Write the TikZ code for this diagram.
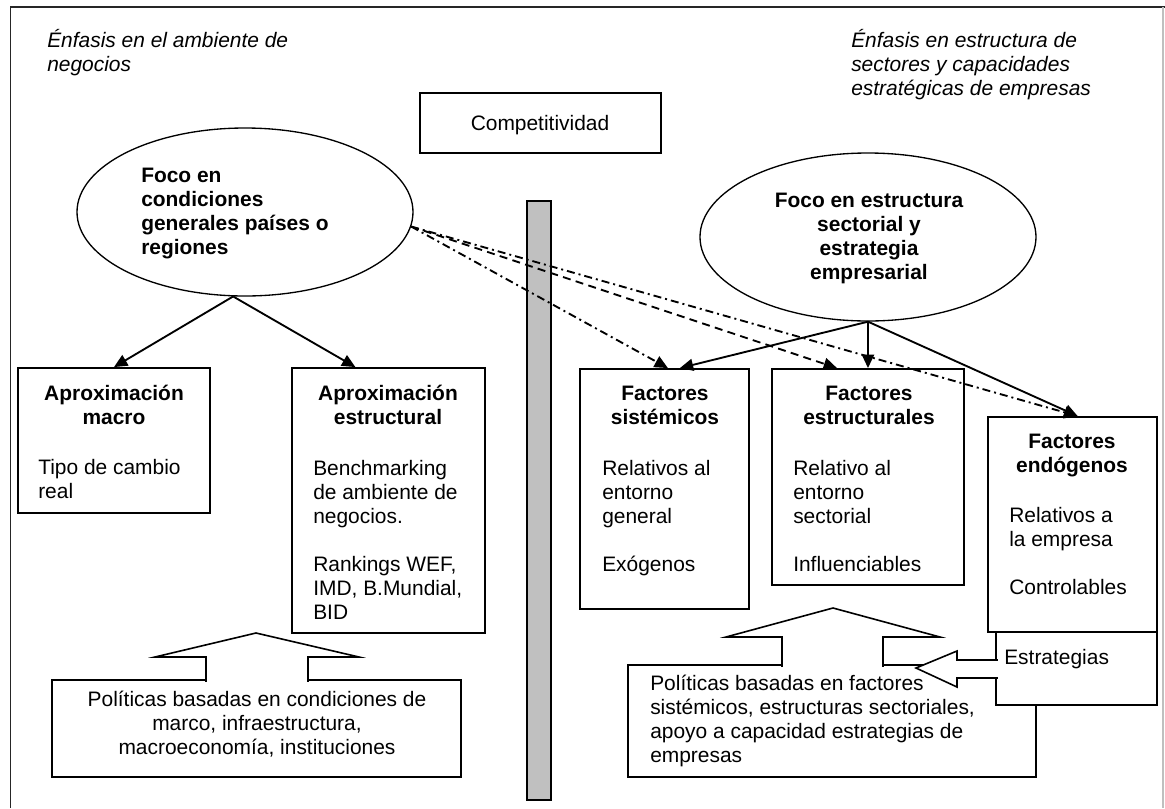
\documentclass[tikz,border=0pt]{standalone}
\usepackage{fontspec}
\setmainfont{Liberation Sans}
\usetikzlibrary{arrows.meta,calc,fit,shapes.geometric}
\definecolor{barcol}{HTML}{C0C0C0}
\begin{document}
\begin{tikzpicture}[x=0.75pt,y=-0.75pt,
  font=\fontsize{15.7pt}{18pt}\selectfont,
  box/.style={draw, line width=1.4pt, fill=white, inner sep=0pt},
  oval/.style={draw, ellipse, line width=1pt, fill=white, inner sep=0pt, minimum width=252pt, minimum height=126pt},
  txt/.style={inner sep=0pt, align=left, anchor=base west},
  ctxt/.style={inner sep=0pt, align=center, anchor=base},
  ttl/.style={inner sep=0pt, align=center, anchor=base, font=\fontsize{15.7pt}{18pt}\selectfont\bfseries},
  arr/.style={line width=1.4pt, -{Triangle[length=10pt,width=9pt]}},
  dd/.style={arr, dash pattern=on 6pt off 3pt on 1.5pt off 3pt},
  ds/.style={arr, dash pattern=on 6pt off 4pt},
  blk/.style={draw, line width=1.2pt, fill=white, line join=miter},
]
\useasboundingbox (0,0) rectangle (1165,808);
% frame
\draw[line width=1pt, black!85] (10.5,808) -- (10.5,7) -- (1165,7);
\draw[line width=0.8pt, black!25] (1163,7) -- (1163,808);

% headings (anchor = baseline of last line)
\node[txt, font=\fontsize{15.7pt}{18pt}\selectfont\itshape] (tl) at (47,71) {Énfasis en el ambiente de\\negocios};
\node[txt, font=\fontsize{15.7pt}{18pt}\selectfont\itshape] (tr) at (851,95) {Énfasis en estructura de\\sectores y capacidades\\estratégicas de empresas};

% Competitividad
\node[box, fit={(420,93) (661,153)}] (comp) {};
\node[ctxt] (compt) at (540,130) {Competitividad};

% ellipses
\node[oval] (lell) at (245,212) {};
\node[txt, font=\fontsize{15.7pt}{18pt}\selectfont\bfseries] (lellt) at (141,254) {Foco en\\condiciones\\generales países o\\regiones};
\node[oval] (rell) at (868,237) {};
\node[ttl] (rellt) at (869,279) {Foco en estructura\\sectorial y\\estrategia\\empresarial};

% gray bar
\node[draw, fill=barcol, line width=1.2pt, inner sep=0pt, fit={(527,201) (551,800)}] (bar) {};

% boxes
\node[box, fit={(18,368) (210,513)}] (macro) {};
\node[box, fit={(292,368) (485,633)}] (estr) {};
\node[box, fit={(580,369) (749,609)}] (sist) {};
\node[box, fit={(772,369) (964,585)}] (estc) {};
\node[box, fit={(988,417) (1157,632)}] (endo) {};

\node[ttl] (macrot) at (114,424) {Aproximación\\macro};
\node[ttl] (estrt) at (388,424) {Aproximación\\estructural};
\node[ttl] (sistt) at (665,424) {Factores\\sistémicos};
\node[ttl] (estct) at (869,424) {Factores\\estructurales};
\node[ttl] (endot) at (1072,472) {Factores\\endógenos};

\node[txt] (macrob) at (38,498) {Tipo de cambio\\real};
\node[txt] (estrb) at (313,619) {Benchmarking\\de ambiente de\\negocios.\\[18pt]Rankings WEF,\\IMD, B.Mundial,\\BID};
\node[txt] (sistb) at (602,571) {Relativos al\\entorno\\general\\[18pt]Exógenos};
\node[txt] (estcb) at (793,571) {Relativo al\\entorno\\sectorial\\[18pt]Influenciables};
\node[txt] (endob) at (1009,594) {Relativos a\\la empresa\\[18pt]Controlables};

% left policies
\node[box, fit={(52,680) (461,777)}] (polL) {};
\node[ctxt] (polLt) at (257,754) {Políticas basadas en condiciones de\\marco, infraestructura,\\macroeconomía, instituciones};
\draw[blk] (206,681.8) -- (206,657) -- (155,657) -- (256,633) -- (359,657) -- (308,657) -- (308,681.8);

% right policies
\node[box, fit={(628,665) (1036,777)}] (polR) {};
\node[txt] (polRt) at (650,762) {Políticas basadas en factores\\sistémicos, estructuras sectoriales,\\apoyo a capacidad estrategias de\\empresas};
\draw[blk] (782,666.8) -- (782,637) -- (726,637) -- (833,608) -- (940,637) -- (883,637) -- (883,666.8);

% estrategias
\node[box, fit={(996,632) (1157,705)}] (estra) {};
\node[txt] (estrat) at (1004,664) {Estrategias};
\draw[blk] (997.8,660) -- (957,660) -- (957,651) -- (916,668) -- (957,687) -- (957,678) -- (997.8,678);

% connectors
\draw[arr] (lell.262) -- (macro.north);
\draw[arr] (lell.262) -- ($(estr.north west)!0.33!(estr.north east)$);
\draw[arr] (rell.south) -- ($(sist.north west)!0.59!(sist.north east)$);
\draw[arr] (rell.south) -- (estc.north);
\draw[arr] (rell.south) -- ($(endo.north west)!0.53!(endo.north east)$);
\draw[dd] (lell.-5) -- ($(sist.north west)!0.52!(sist.north east)$);
\draw[ds] (lell.-5) -- ($(estc.north west)!0.34!(estc.north east)$);
\draw[dd] (lell.-5) -- ($(endo.north west)!0.53!(endo.north east)$);
\end{tikzpicture}
\end{document}
